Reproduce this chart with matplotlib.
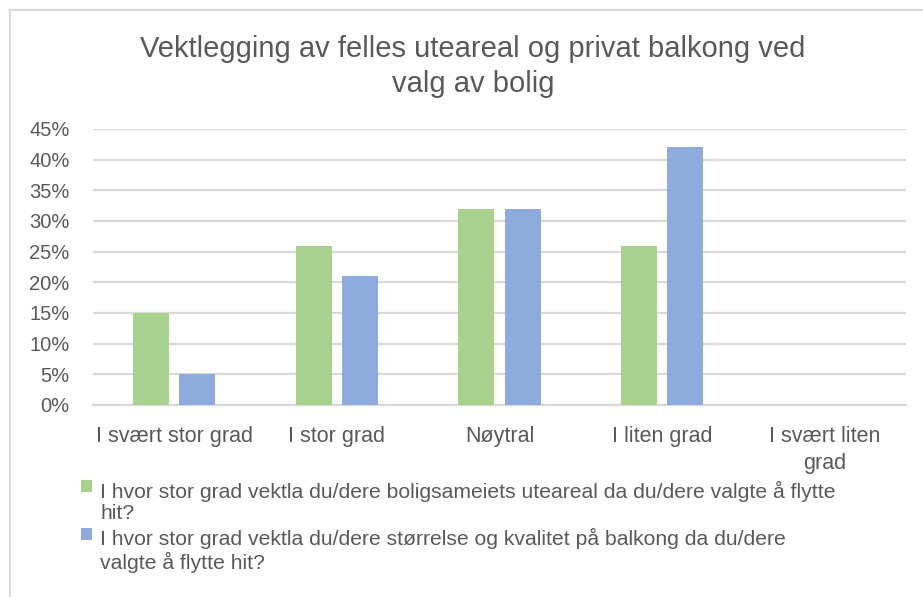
import matplotlib
matplotlib.use("Agg")
import matplotlib.pyplot as plt
import numpy as np
from matplotlib.patches import Rectangle
from matplotlib.ticker import FuncFormatter

plt.rcParams['font.family'] = ['Liberation Sans', 'DejaVu Sans']

categories = ["I svært stor grad", "I stor grad", "Nøytral", "I liten grad", "I svært liten\ngrad"]
uteareal = [15, 26, 32, 26, 0]
balkong = [5, 21, 32, 42, 0]
series_labels = [
    "I hvor stor grad vektla du/dere boligsameiets uteareal da du/dere valgte å flytte\nhit?",
    "I hvor stor grad vektla du/dere størrelse og kvalitet på balkong da du/dere\nvalgte å flytte hit?",
]
yticks = [0, 5, 10, 15, 20, 25, 30, 35, 40, 45]

green = "#a9d18e"
blue = "#8faadc"
text_col = "#595959"
grid_col = "#d9d9d9"

W, H = 923, 597
fig = plt.figure(figsize=(W / 100, H / 100), dpi=100)
ax = fig.add_axes([93 / W, 1 - 405 / H, 813 / W, 276 / H])

x = np.arange(len(categories))
bw = 0.221
b1 = ax.bar(x - 0.142, uteareal, bw, color=green, label=series_labels[0], zorder=3)
b2 = ax.bar(x + 0.142, balkong, bw, color=blue, label=series_labels[1], zorder=3)

ax.set_xlim(-0.5, len(categories) - 0.5)
ax.set_ylim(0, 45)
ax.set_yticks(yticks)
ax.yaxis.set_major_formatter(FuncFormatter(lambda v, p: f"{int(v)}%"))
ax.grid(axis='y', color=grid_col, linewidth=1.6, zorder=0)
ax.set_axisbelow(True)
for s in ['top', 'right', 'left']:
    ax.spines[s].set_visible(False)
ax.spines['bottom'].set_color(grid_col)
ax.spines['bottom'].set_linewidth(1.6)
ax.tick_params(axis='both', length=0, colors=text_col)
ax.tick_params(axis='y', pad=17, labelsize=14.5)
ax.tick_params(axis='x', pad=15, labelsize=15.5)
ax.set_xticks(x)
ax.set_xticklabels(categories, linespacing=1.4)

fig.suptitle("Vektlegging av felles uteareal og privat balkong ved\nvalg av bolig",
             x=473 / W, y=1 - 35 / H, va='top', fontsize=21, color=text_col, linespacing=1.3)

leg = fig.legend(handles=[b1, b2], loc='upper left', bbox_to_anchor=(73 / W, 1 - 472 / H),
                 frameon=False, fontsize=15.2, handlelength=0.5, handleheight=0.5,
                 handletextpad=0.4, labelspacing=0.25, borderaxespad=0)
for t in leg.get_texts():
    t.set_color(text_col)
    t.set_linespacing(1.15)
# put the legend swatch next to the first text line
for col in leg._legend_handle_box.get_children():
    for row in col.get_children():
        row.align = "top"

# chart area border
fig.patches.append(Rectangle((10 / W, -0.1), 1.2, 1 - 10 / H + 0.1, transform=fig.transFigure,
                             fill=False, edgecolor=grid_col, linewidth=1.6))

fig.savefig("out.png", dpi=100, facecolor="white")
